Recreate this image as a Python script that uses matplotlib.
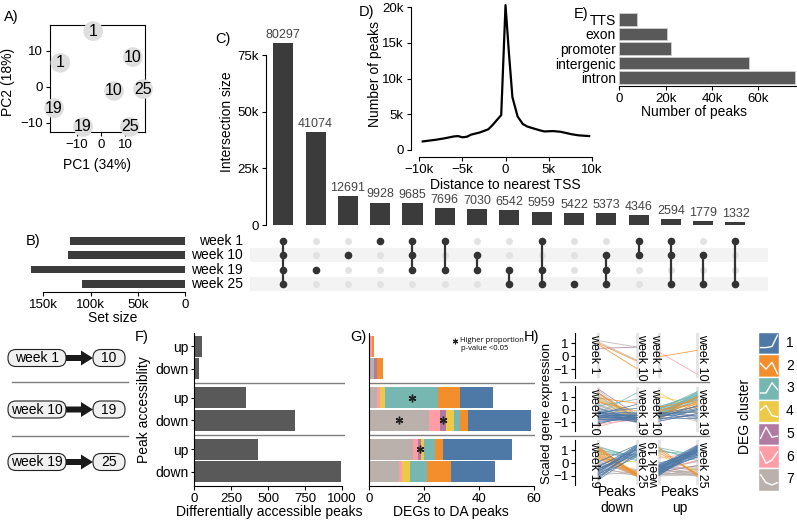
import matplotlib

matplotlib.use("Agg")
import matplotlib.pyplot as plt
from matplotlib.patches import FancyArrow, FancyBboxPatch, Rectangle

W, H = 797, 521

# ---------------- data ----------------
PCA_X = [-3.3, -17.0, 13.3, 5.4, 17.5, -19.6, -7.5, 12.0]
PCA_Y = [15.5, 6.7, 8.3, -1.1, -0.6, -5.9, -11.1, -11.1]
PCA_LABEL = ["1", "1", "10", "10", "25", "19", "19", "25"]

SETS = ["week 1", "week 10", "week 19", "week 25"]
INTERSECT_SIZES = [80297, 41074, 12691, 9928, 9685, 7696, 7030, 6542,
                   5959, 5422, 5373, 4346, 2594, 1779, 1332]
INTERSECT_MEMBERS = [(0, 1, 2, 3), (2,), (1,), (0,), (0, 1, 2), (0, 2), (1, 2), (2, 3),
                     (0, 2, 3), (3,), (1, 2, 3), (0, 1), (0, 1, 3), (1, 3), (0, 3)]

TSS_DIST = [-9600, -8000, -7000, -6000, -5500, -5000, -4500, -4000, -3000, -2000,
            -1500, -1000, -500, 0, 400, 800, 1400, 2000, 2500, 3300, 4000, 4500,
            5500, 6400, 7700, 8500, 9700]
TSS_PEAKS = [1200, 1450, 1650, 1900, 1950, 1780, 1850, 2150, 2450, 2900,
             3500, 4200, 4900, 20300, 13500, 7400, 4700, 3650, 3300, 3000, 2750, 2600,
             2650, 2550, 2200, 2050, 1950]

ANNOT = ["TTS", "exon", "promoter", "intergenic", "intron"]
ANNOT_PEAKS = [7800, 20500, 22200, 56000, 75800]

TRANSITIONS = [("week 1", "10"), ("week 10", "19"), ("week 19", "25")]
DA_DIRECTION = ["up", "down", "up", "down", "up", "down"]
DA_PEAKS = [50, 34, 351, 685, 434, 993]

# DEGs per cluster 1..7 for each row of F
DEG_COUNTS = [
    [0, 1, 0, 0, 0, 1, 0],
    [0, 2, 0, 0, 1, 0, 2],
    [12, 8, 19, 2, 0, 1, 3],
    [23, 3, 2, 3, 2, 4, 22],
    [25, 3, 4, 1, 1, 2, 16],
    [16, 9, 6, 3, 0, 1, 11],
]
STARS = [(2, 3), (3, 7), (3, 5), (4, 5)]  # (row, cluster)

CLUSTER_COLORS = {1: "#4E79A7", 2: "#F28E2B", 3: "#76B7B2", 4: "#EDC948",
                  5: "#B07AA1", 6: "#FF9DA7", 7: "#BAB0AC"}
CLUSTER_SHAPES = {1: [0.3, 0.3, 0.35, 0.85], 2: [0.6, 0.35, 0.65, 0.15],
                  3: [0.3, 0.3, 0.75, 0.45], 4: [0.55, 0.75, 0.3, 0.25],
                  5: [0.3, 0.8, 0.35, 0.4], 6: [0.7, 0.2, 0.35, 0.7],
                  7: [0.7, 0.35, 0.25, 0.35]}

# scaled expression (start, end) per cluster, one dict per H panel
H_DOWN_1 = {7: [(1.2, 0.72), (1.1, -0.3)], 5: [(0.6, 0.7)],
            2: [(1.0, -0.38), (0.9, -0.95)]}
H_UP_1 = {6: [(0.32, -1.4)], 2: [(-0.05, 0.45)]}
H_DOWN_2 = {
    7: [(1.3, -0.7), (1.1, -0.9), (0.9, -0.6), (0.8, -1.0), (0.7, -0.8), (0.6, -0.5),
        (0.5, -0.9), (0.4, -0.7), (0.3, -0.6), (0.2, -1.0), (0.1, -0.8), (0.0, -0.7),
        (-0.1, -0.9), (-0.2, -0.6), (-0.3, -0.8), (-0.4, -1.0), (-0.5, -0.7), (-0.6, -0.9),
        (1.5, -0.8), (1.0, -0.5), (-0.7, -0.6), (0.35, -0.95)],
    6: [(-1.3, -0.6), (-1.1, -0.8), (-0.9, -0.5), (-0.6, -0.7)],
    5: [(1.6, -0.4), (1.3, -0.7)],
    4: [(1.2, -0.5), (0.9, -0.9), (0.7, -0.3)],
    3: [(0.3, 0.8), (-0.3, 1.3)],
    2: [(1.3, -0.85), (0.9, 0.5), (0.6, -0.1)],
    1: [(-0.2, -0.5), (-0.3, -0.7), (-0.4, -0.4), (-0.5, -0.8), (-0.6, -0.6), (-0.7, -0.9),
        (-0.8, -0.5), (-0.9, -0.7), (-1.0, -0.6), (-0.35, 0.4), (-0.45, -0.3), (-0.55, -0.55),
        (-0.25, -0.85), (-0.65, -0.35), (-0.75, -0.75), (-0.15, -0.65), (-0.5, -0.45),
        (-0.4, -0.95), (-0.3, -0.2), (-0.6, -0.65), (-1.1, -0.4), (0.1, -0.7), (-0.2, 0.1)],
}
H_UP_2 = {
    7: [(0.1, -0.8), (-0.2, -0.9), (0.3, -0.6)],
    6: [(-0.9, -0.3)],
    4: [(1.3, -0.3), (1.0, 0.4)],
    3: [(-0.6, 1.4), (-0.5, 1.2), (-0.4, 1.0), (-0.3, 1.3), (-0.2, 0.9), (-0.1, 1.1),
        (0.0, 1.3), (0.1, 0.8), (0.2, 1.2), (-0.7, 0.9), (-0.45, 0.7), (-0.35, 1.15),
        (-0.25, 0.6), (-0.15, 1.0), (0.05, 1.4), (0.15, 0.95), (-0.55, 1.05), (-0.05, 0.75),
        (0.25, 1.1)],
    2: [(-0.6, 0.3), (-0.4, 0.6), (-0.2, 0.9), (0.0, 0.4), (-0.5, 1.0), (-0.3, 0.2),
        (0.2, 0.7), (-0.7, 0.5)],
    1: [(-0.3, -0.2), (-0.5, 0.1), (-0.7, -0.4), (-0.6, 0.3), (-0.4, -0.6), (-0.8, 0.0),
        (-0.2, -0.5), (-0.9, -0.3), (-0.55, -0.1), (-0.35, 0.25), (-0.65, -0.7), (-0.45, 0.0)],
}
H_DOWN_3 = {
    7: [(0.3, -0.8), (0.1, -0.9), (-0.1, -0.7), (-0.3, -1.0), (0.5, -0.6), (-0.5, -0.8),
        (0.0, -0.5), (-0.7, -0.9), (0.2, -1.0), (-0.2, -0.6), (-0.9, -0.7)],
    6: [(-0.8, 0.6)],
    4: [(0.8, -0.9), (0.3, 0.1), (1.0, -0.7)],
    3: [(1.2, 0.5), (1.0, 0.6), (0.9, 0.3), (1.3, 0.4), (0.7, 0.7), (1.1, 0.2)],
    2: [(1.3, -1.0), (1.2, -0.9), (1.0, -0.85), (0.9, -1.0), (0.7, -0.8), (0.5, -0.9),
        (0.6, -0.7), (1.1, -0.95), (0.4, -1.0)],
    1: [(-0.3, 1.3), (-0.5, 1.1), (-0.7, 1.4), (-0.9, 0.9), (-1.1, 1.2), (-1.3, 0.7),
        (-0.4, 0.8), (-0.6, 1.0), (-0.8, 1.3), (-1.0, 0.5), (-0.2, 1.0), (-1.2, 1.1),
        (-0.45, 0.6), (-0.65, 1.2), (-0.85, 0.8), (0.1, 1.4)],
}
H_UP_3 = {
    7: [(-0.3, -0.5), (-0.5, -0.8), (-0.7, -1.0), (-0.9, -0.6), (-1.0, -0.9), (-0.4, -0.3),
        (-0.6, -0.7), (-0.8, -0.4), (-0.2, -0.9), (-0.35, 0.1), (-0.55, -0.2), (-0.75, -0.75),
        (-0.95, -0.5), (-0.45, -1.0), (-0.65, 0.2), (-0.85, -0.85)],
    6: [(0.4, 0.8), (-0.5, 0.2)],
    5: [(-0.7, -0.2)],
    4: [(0.6, -0.6)],
    3: [(1.2, 0.6), (1.0, 0.4), (0.9, 0.7), (1.1, 0.2)],
    2: [(1.2, -1.0), (1.0, -0.9), (0.8, -0.8)],
    1: [(-0.2, 1.4), (-0.3, 1.2), (-0.4, 1.0), (-0.5, 1.3), (-0.6, 0.8), (-0.7, 1.1),
        (-0.8, 0.6), (-0.9, 0.9), (-0.1, 1.0), (-0.25, 0.7), (-0.35, 1.35), (-0.45, 0.9),
        (-0.55, 1.15), (-0.65, 0.5), (-0.75, 0.95), (-0.85, 1.25), (0.0, 0.8), (-0.15, 1.1),
        (-0.3, 0.6), (-0.5, 0.45), (-0.4, 1.25), (-0.6, 1.05), (-0.2, 0.85), (-0.7, 0.7),
        (-0.95, 1.0)],
}
H_PANELS = [[H_DOWN_1, H_UP_1], [H_DOWN_2, H_UP_2], [H_DOWN_3, H_UP_3]]
H_WEEKS = [("week 1", "week 10"), ("week 10", "week 19"), ("week 19", "week 25")]

# ---------------- style ----------------
plt.rcParams["font.family"] = ["Liberation Sans", "DejaVu Sans"]
plt.rcParams["axes.facecolor"] = "none"
plt.rcParams["font.size"] = 10
plt.rcParams["xtick.labelsize"] = 9.5
plt.rcParams["ytick.labelsize"] = 9.5
plt.rcParams["axes.linewidth"] = 0.8
for k in ("xtick", "ytick"):
    plt.rcParams[f"{k}.major.size"] = 3
    plt.rcParams[f"{k}.major.width"] = 0.8
    plt.rcParams[f"{k}.major.pad"] = 2

DARK = "#3b3b3b"
BAR = "#595959"

fig = plt.figure(figsize=(W / 100, H / 100), dpi=100)


def px_axes(x0, y0, x1, y1):
    return fig.add_axes([x0 / W, 1 - y1 / H, (x1 - x0) / W, (y1 - y0) / H])


def only_spines(ax, keep):
    for name, sp in ax.spines.items():
        sp.set_visible(name in keep)


# A) PCA
ax = px_axes(50, 25, 145, 132)
ax.scatter(PCA_X, PCA_Y, s=200, color="#dedede", edgecolor="none", zorder=3, clip_on=False)
for x, y, t in zip(PCA_X, PCA_Y, PCA_LABEL):
    ax.text(x, y, t, ha="center", va="center", fontsize=11.5, zorder=4)
ax.set_xlim(-21.3, 18.3)
ax.set_ylim(-12.5, 17.2)
ax.set_xticks([-10, 0, 10])
ax.set_yticks([-10, 0, 10])

# C) intersection bars
n = len(INTERSECT_SIZES)
xs = list(range(n))
px_per = 181.7 / 80297
axc = px_axes(266, 5, 770, 225)
axc.bar(xs, INTERSECT_SIZES, width=0.62, color=DARK)
for x, v in zip(xs, INTERSECT_SIZES):
    axc.annotate(str(v), (x, v), xytext=(0, 1.5), textcoords="offset points",
                 ha="center", va="bottom", fontsize=9, color="#444444")
axc.set_xlim(-0.536, 15.07)
axc.set_ylim(0, 220 / px_per)
only_spines(axc, ["left"])
axc.spines["left"].set_bounds(0, 75000)
axc.set_xticks([])
axc.set_yticks([0, 25000, 50000, 75000], ["0", "25k", "50k", "75k"])

# matrix
axm = px_axes(250, 233, 770, 292)
axm.set_xlim(-1.031, 15.07)
axm.set_ylim(3.56, -0.535)
for i in (1, 3):
    axm.add_patch(Rectangle((-1.031, i - 0.5), 16.03, 1, color="#f3f3f3", lw=0))
for j, mem in enumerate(INTERSECT_MEMBERS):
    off = [i for i in range(len(SETS)) if i not in mem]
    axm.plot([j] * len(off), off, "o", ms=5, color="#e2e2e2", mec="none")
    if len(mem) > 1:
        axm.plot([j, j], [min(mem), max(mem)], color="#333333", lw=1.6)
    axm.plot([j] * len(mem), list(mem), "o", ms=5.5, color="#333333", mec="none")
for i, s in enumerate(SETS):
    axm.text(-1.25, i, s, ha="right", va="center", fontsize=10)
axm.axis("off")

# B) set sizes
set_sizes = [sum(v for v, m in zip(INTERSECT_SIZES, INTERSECT_MEMBERS) if i in m)
             for i in range(len(SETS))]
axb = px_axes(25, 233, 185, 292)
axb.barh(range(len(SETS)), set_sizes, height=0.55, color=DARK)
axb.set_xlim(169500, 0)
axb.set_ylim(3.56, -0.535)
only_spines(axb, ["bottom"])
axb.spines["bottom"].set_bounds(0, 150000)
axb.set_yticks([])
axb.set_xticks([150000, 100000, 50000, 0], ["150k", "100k", "50k", "0"])

# D) distance to TSS
axd = px_axes(410.7, 3, 600, 156.7)
axd.plot(TSS_DIST, TSS_PEAKS, color="black", lw=1.6)
axd.set_xlim(-11000, 10960)
axd.set_ylim(-940, 20600)
only_spines(axd, ["left", "bottom"])
axd.spines["left"].set_bounds(0, 20000)
axd.spines["bottom"].set_bounds(-10000, 10000)
axd.set_xticks([-10000, -5000, 0, 5000, 10000], ["\u221210k", "\u22125k", "0", "5k", "10k"])
axd.set_yticks([0, 5000, 10000, 15000, 20000], ["0", "5k", "10k", "15k", "20k"])

# E) annotation
axe = px_axes(619.3, 10, 797, 86)
axe.barh(range(len(ANNOT)), ANNOT_PEAKS, height=0.87, color=BAR, edgecolor="#d0d0d0", lw=0.6)
axe.set_xlim(0, 76700)
axe.set_ylim(4.57, -0.64)
only_spines(axe, ["bottom"])
axe.set_yticks(range(len(ANNOT)), ANNOT, fontsize=10)
axe.tick_params(axis="y", length=0, pad=2.5)
axe.set_xticks([0, 20000, 40000, 60000], ["0", "20k", "40k", "60k"])

# F) DA peaks
ypos = [2.29 * k + j for k in range(3) for j in range(2)]
seps = [1.645, 3.935]
axf = px_axes(194.3, 333, 345, 486)
axf.barh(ypos, DA_PEAKS, height=0.93, color=BAR)
axf.set_xlim(0, 1022)
axf.set_ylim(6.22, -0.58)
only_spines(axf, ["left", "bottom"])
axf.spines["bottom"].set_bounds(0, 1000)
axf.set_yticks(ypos, DA_DIRECTION, fontsize=10)
axf.tick_params(axis="y", length=2)
axf.set_xticks([0, 250, 500, 750, 1000])
for s in seps:
    axf.axhline(s, color="#7f7f7f", lw=1)

# G) DEGs stacked
axg = px_axes(369, 333, 535, 486)
left = [0] * len(ypos)
seg = {}
for c in (7, 6, 5, 4, 3, 2, 1):
    w = [row[c - 1] for row in DEG_COUNTS]
    axg.barh(ypos, w, left=left, height=0.93, color=CLUSTER_COLORS[c])
    seg[c] = [(l, l + v) for l, v in zip(left, w)]
    left = [l + v for l, v in zip(left, w)]
for r, c in STARS:
    a, b = seg[c][r]
    axg.plot((a + b) / 2, ypos[r], marker=(6, 2, 0), ms=5.5, mew=1, color="#222222")
axg.set_xlim(0, 60.4)
axg.set_ylim(6.22, -0.58)
only_spines(axg, ["left", "bottom"])
axg.spines["bottom"].set_bounds(0, 60)
axg.set_yticks([])
axg.set_xticks([0, 20, 40, 60])
for s in seps:
    axg.axhline(s, color="#7f7f7f", lw=1)

# H) expression lines
h_cols = [(575, 645, 598.3, 636.5), (648, 708, 659, 697.2)]
h_rows = [333, 386.5, 440]
for r, top in enumerate(h_rows):
    for c, (x0, x1, d0, d1) in enumerate(h_cols):
        sc = d1 - d0
        axh = px_axes(x0, top, x1, top + 45)
        axh.set_xlim(-(d0 - x0) / sc, 1 + (x1 - d1) / sc)
        axh.set_ylim(-1.7, 1.8)
        axh.axvline(0, color="#e4e4e4", lw=2, zorder=0)
        axh.axvline(1, color="#e4e4e4", lw=2, zorder=0)
        for cl in (7, 6, 5, 4, 3, 2, 1):
            for s, e in H_PANELS[r][c].get(cl, []):
                axh.plot([0, 1], [s, e], color=CLUSTER_COLORS[cl], lw=0.6, alpha=0.85)
        axh.set_xticks([])
        if c == 0:
            only_spines(axh, ["left"])
            axh.set_yticks([-1, 0, 1], ["\u22121", "0", "1"], fontsize=9.5)
            axh.tick_params(axis="y", pad=1.5)
        else:
            only_spines(axh, [])
            axh.set_yticks([])
        rot_left = 90 if (r == 2 and c == 1) else -90
        axh.text(-0.11, 1.72, H_WEEKS[r][0], rotation=rot_left, ha="center", va="top",
                 fontsize=9)
        axh.text(1.13, 1.72, H_WEEKS[r][1], rotation=-90, ha="center", va="top", fontsize=9)

# ---------------- overlay (pixel coords) ----------------
ov = fig.add_axes([0, 0, 1, 1])
ov.set_xlim(0, W)
ov.set_ylim(H, 0)
ov.axis("off")

for lab, (x, y) in {"A)": (11, 17), "B)": (33, 241), "C)": (223, 39), "D)": (367, 12),
                    "E)": (581, 14), "F)": (142, 337), "G)": (358, 337),
                    "H)": (532, 337)}.items():
    ov.text(x, y, lab, ha="center", va="center", fontsize=10.5)

ov.text(8, 82, "PC2 (18%)", rotation=90, ha="center", va="center")
ov.text(97, 165, "PC1 (34%)", ha="center", va="center")
ov.text(227, 122, "Intersection size", rotation=90, ha="center", va="center")
ov.text(113, 318, "Set size", ha="center", va="center")
ov.text(375, 74, "Number of peaks", rotation=90, ha="center", va="center")
ov.text(505, 185, "Distance to nearest TSS", ha="center", va="center")
ov.text(694, 112, "Number of peaks", ha="center", va="center")
ov.text(144, 410, "Peak accessiblity", rotation=90, ha="center", va="center")
ov.text(269, 512, "Differentially accessible peaks", ha="center", va="center")
ov.text(451, 512, "DEGs to DA peaks", ha="center", va="center")
ov.text(547, 413, "Scaled gene expression", rotation=90, ha="center", va="center",
        fontsize=9.5)
ov.text(617, 500, "Peaks\ndown", ha="center", va="center", linespacing=1.1)
ov.text(680, 500, "Peaks\nup", ha="center", va="center", linespacing=1.1)
ov.text(745, 416, "DEG cluster", rotation=90, ha="center", va="center")

# G note
ov.plot(455, 340.5, marker=(6, 2, 0), ms=4, mew=0.8, color="#222222")
ov.text(460, 340.5, "Higher proportion", fontsize=5.5, family="Open Sans", va="center")
ov.text(461.5, 349, "p-value <0.05", fontsize=5.5, family="Open Sans", va="center")

# separators
for y in (382, 436):
    ov.plot([12, 128], [y, y], color="#7f7f7f", lw=1)
    ov.plot([560, 709], [y, y], color="#7f7f7f", lw=1)

# transitions
for (a, b), yc in zip(TRANSITIONS, (358, 409.5, 462)):
    ov.add_patch(FancyBboxPatch((8, yc - 8.5), 58, 17, boxstyle="round,pad=0,rounding_size=8",
                                fc="#f0f0f0", ec="#222222", lw=0.8))
    ov.add_patch(FancyBboxPatch((93, yc - 8.5), 32, 17, boxstyle="round,pad=0,rounding_size=8",
                                fc="#f0f0f0", ec="#222222", lw=0.8))
    ov.add_patch(FancyArrow(66, yc, 27, 0, width=6, head_width=15, head_length=12,
                            length_includes_head=True, color="#1a1a1a", lw=0))
    ov.text(37, yc, a, ha="center", va="center", fontsize=10)
    ov.text(109, yc, b, ha="center", va="center", fontsize=10)

# cluster legend
key_h = 22.7
for i, cl in enumerate(range(1, 8)):
    y0 = 331.7 + key_h * i
    ov.add_patch(Rectangle((758.3, y0), 21, key_h, fc=CLUSTER_COLORS[cl], ec="white", lw=1))
    xs_icon = [760.5, 766, 772, 777.5]
    ov.plot(xs_icon, [y0 + key_h - v * key_h for v in CLUSTER_SHAPES[cl]], color="white", lw=1)
    ov.text(786, y0 + key_h / 2, str(cl), ha="left", va="center", fontsize=10)

fig.savefig("out.png", dpi=100)
